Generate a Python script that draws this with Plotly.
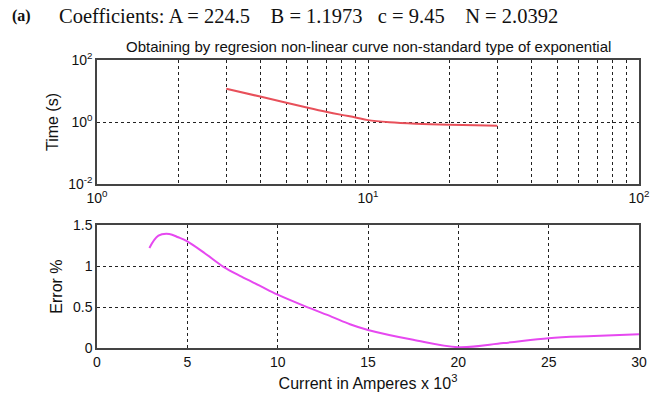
import plotly.graph_objects as go

# Top: fitted time-current curve (log-log)
curr_fit = [3, 4, 5, 6, 7, 8, 9, 10, 12, 15, 20, 25, 30]
time_fit = [11.9, 6.6, 4.2, 2.9, 2.15, 1.7, 1.4, 1.15, 0.98, 0.88, 0.81, 0.78, 0.76]

# Bottom: error %
curr_err = [2.9, 3.4, 4.0, 4.5, 5.0, 6.0, 7.0, 8.0, 9.0, 10.0, 11.5, 13.0, 14.0, 15.0,
            17.5, 20.0, 22.5, 25.0, 27.5, 30.0]
err_pct = [1.22, 1.37, 1.39, 1.35, 1.30, 1.15, 0.99, 0.87, 0.76, 0.65, 0.51, 0.38, 0.29,
           0.22, 0.10, 0.01, 0.06, 0.12, 0.145, 0.167]

x_log_grid = [1, 2, 3, 4, 5, 6, 7, 8, 9, 10, 20, 30, 40, 50, 60, 70, 80, 90, 100]
x_log_text = ["10<sup>0</sup>" if v == 1 else "10<sup>1</sup>" if v == 10 else
              "10<sup>2</sup>" if v == 100 else "" for v in x_log_grid]
y_log_vals = [0.01, 1, 100]
y_log_text = ["10<sup>-2</sup>", "10<sup>0</sup>", "10<sup>2</sup>"]
x_lin_vals = [0, 5, 10, 15, 20, 25, 30]
y_lin_vals = [0, 0.5, 1, 1.5]

title_main = "Coefficients: A = 224.5    B = 1.1973   c = 9.45    N = 2.0392"
title_sub = "Obtaining by regresion non-linear curve non-standard type of exponential"

W, H = 667, 401
l, r, t, b = 97, 28, 60, 53
pw, ph = W - l - r, H - t - b

fig = go.Figure()
fig.add_trace(go.Scatter(x=curr_fit, y=time_fit, mode="lines", line=dict(color="#e8505a", width=2),
                         line_shape="spline", xaxis="x", yaxis="y", showlegend=False))
fig.add_trace(go.Scatter(x=curr_err, y=err_pct, mode="lines", line=dict(color="#e648f0", width=2),
                         line_shape="spline", xaxis="x2", yaxis="y2", showlegend=False))

tick_font = dict(family="Liberation Sans", size=14, color="#111")
title_font = dict(family="Liberation Sans", size=16, color="#111")
axis_common = dict(showline=True, linecolor="#444", linewidth=1.5, mirror=True,
                   showgrid=True, gridcolor="#222", griddash="dot", gridwidth=1,
                   zeroline=False, ticks="", tickfont=tick_font, automargin=False)

top_lo = (ph - (184 - 60)) / ph  # bottom of top panel in paper coords
fig.update_layout(
    width=W, height=H,
    margin=dict(l=l, r=r, t=t, b=b),
    paper_bgcolor="white", plot_bgcolor="white",
    xaxis=dict(type="log", range=[0, 2], domain=[0, 1], anchor="y",
               tickmode="array", tickvals=x_log_grid, ticktext=x_log_text, **axis_common),
    yaxis=dict(type="log", range=[-2, 2], domain=[top_lo, 1], anchor="x",
               tickmode="array", tickvals=y_log_vals, ticktext=y_log_text,
               title=dict(text="Time (s)", font=title_font, standoff=6),
               **axis_common),
    xaxis2=dict(range=[0, 30], domain=[0, 1], anchor="y2",
                tickmode="array", tickvals=x_lin_vals,
                title=dict(text="Current in Amperes x 10<sup>3</sup>", font=title_font, standoff=9),
                **axis_common),
    yaxis2=dict(range=[0, 1.5], domain=[0, (348 - 225) / ph], anchor="x2",
                tickmode="array", tickvals=y_lin_vals, ticktext=["0", "0.5", "1", "1.5"],
                title=dict(text="Error %", font=title_font, standoff=6),
                **axis_common),
    annotations=[
        dict(text="<b>(a)</b>", x=10, y=16, xref="paper", yref="paper", showarrow=False,
             xanchor="left", yanchor="middle", font=dict(family="Liberation Serif", size=16, color="#111")),
        dict(text=title_main, x=57, y=16, xref="paper", yref="paper", showarrow=False,
             xanchor="left", yanchor="middle", font=dict(family="Liberation Serif", size=20.5, color="#111")),
        dict(text=title_sub, x=0.5, y=1, xref="paper", yref="paper", showarrow=False,
             xanchor="center", yanchor="bottom", yshift=3,
             font=dict(family="Liberation Sans", size=15, color="#111")),
    ],
)

# convert pixel positions for the top title annotations into paper coords
for ann in fig.layout.annotations[:2]:
    ann.x = (ann.x - l) / pw
    ann.y = (H - b - ann.y) / ph

# remove the browser's default 8px body margin so the figure fills the window exactly
fig.write_html("out.html", config={"displayModeBar": False},
               post_script="document.body.style.margin='0';")
